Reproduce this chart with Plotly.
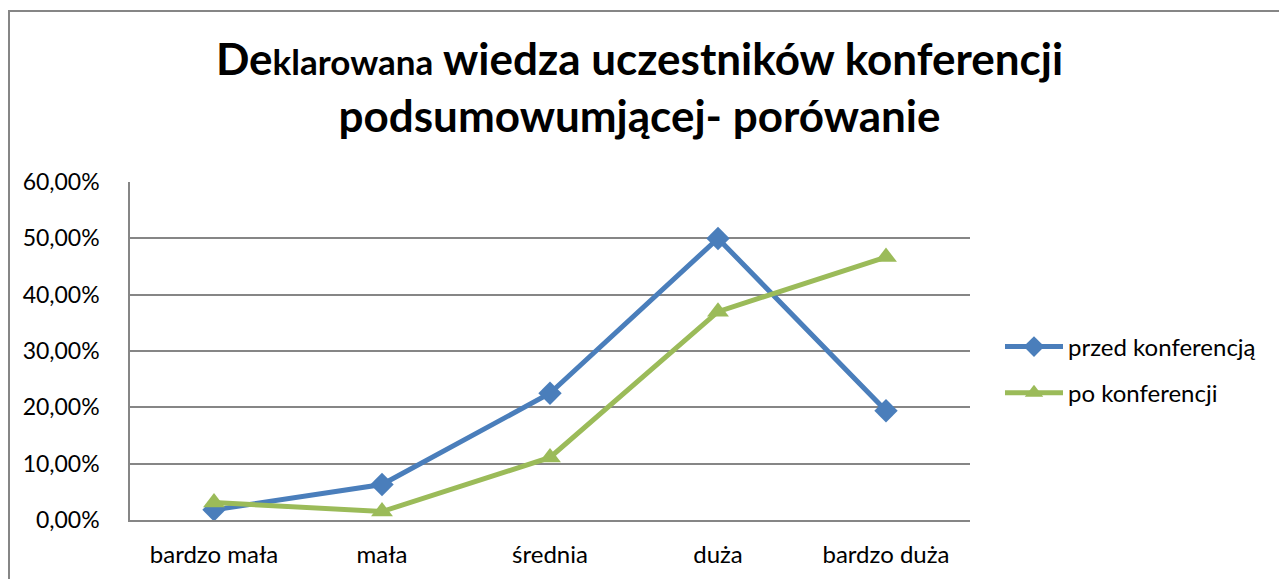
import plotly.graph_objects as go

categories = ["bardzo mała", "mała", "średnia", "duża", "bardzo duża"]
przed = [1.8, 6.3, 22.5, 50.0, 19.4]
po = [3.1, 1.5, 11.1, 37.0, 46.7]
tick_vals = [0, 10, 20, 30, 40, 50, 60]
tick_text = ["0,00%", "10,00%", "20,00%", "30,00%", "40,00%", "50,00%", "60,00%"]
series_names = ["przed konferencją", "po konferencji"]

FONT = "Lato"
W, H = 1279, 579
L, R, T, B = 130, 309, 182, 59
pw, ph = W - L - R, H - T - B

fig = go.Figure()
fig.add_trace(go.Scatter(
    x=categories, y=przed, name=series_names[0], mode="lines+markers",
    legendgroup="a",
    line=dict(color="#4A7EBB", width=5),
    marker=dict(symbol="diamond", size=18, color="#4A7EBB"),
))
fig.add_trace(go.Scatter(
    x=categories, y=po, name=series_names[1], mode="lines+markers",
    legendgroup="b",
    line=dict(color="#9BBB59", width=5),
    marker=dict(symbol="triangle-up", size=19, color="#9BBB59"),
))

fig.update_layout(
    width=W, height=H,
    margin=dict(l=L, r=R, t=T, b=B),
    paper_bgcolor="white", plot_bgcolor="white",
    font=dict(family=FONT, color="black", size=24),
    title=dict(
        text="De<span style=\"font-size:35px\">klarowana</span> wiedza uczestników konferencji<br>podsumowumjącej- porówanie",
        x=0.5, xanchor="center", xref="container",
        y=1 - 75 / H, yanchor="middle", yref="container",
        font=dict(family=FONT, size=44, color="black", weight="bold"),
    ),
    xaxis=dict(
        type="category", range=[-0.5, 4.5],
        showgrid=False, showline=True, linecolor="#868686", linewidth=1.5,
        zeroline=False, ticks="", tickfont=dict(size=24, family=FONT),
        ticklabelstandoff=12,
    ),
    yaxis=dict(
        range=[0, 60.02], tickvals=tick_vals, ticktext=tick_text,
        showgrid=True, gridcolor="#868686", gridwidth=1.5,
        zeroline=False, showline=True, linecolor="#868686", linewidth=1.5,
        ticks="", tickfont=dict(size=23, family=FONT), ticklabelstandoff=24,
    ),
    legend=dict(
        x=(1000 - L) / pw, y=(H - B - 370) / ph, xanchor="left", yanchor="middle",
        font=dict(size=24, family=FONT), traceorder="grouped", tracegroupgap=12,
        itemwidth=58,
    ),
    showlegend=True,
)

# outer chart border
fig.add_shape(type="rect", xref="paper", yref="paper",
              x0=(9 - L) / pw, x1=(1290 - L) / pw,
              y0=-(B + 20) / ph, y1=(H - B - 11) / ph,
              line=dict(color="#868686", width=2), fillcolor="rgba(0,0,0,0)", layer="below")

fig.write_html("out.html", config={"displayModeBar": False},
               post_script="document.body.style.margin='0';")
